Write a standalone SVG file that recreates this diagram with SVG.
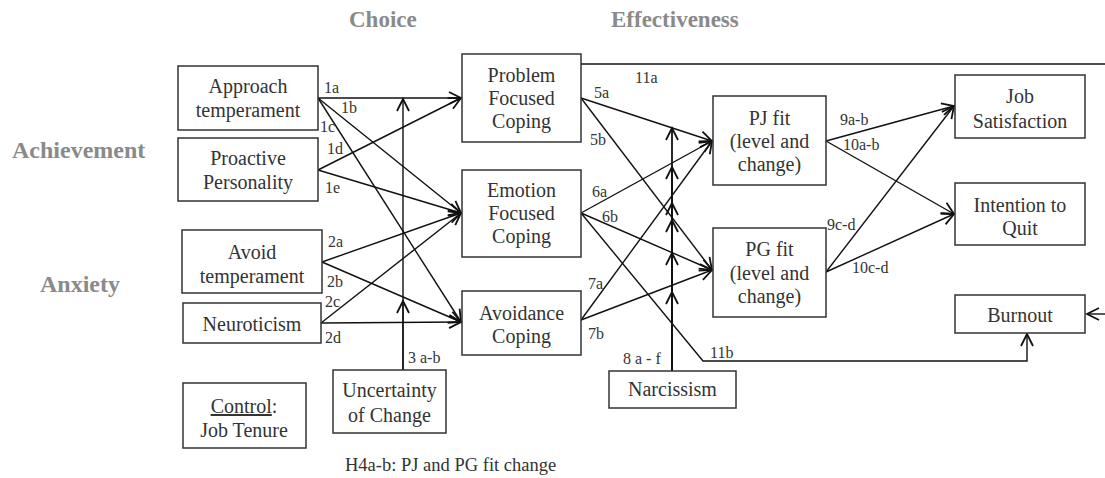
<svg xmlns="http://www.w3.org/2000/svg" width="1105" height="478" viewBox="0 0 1105 478">
<style>
.box{fill:#fff;stroke:#333;stroke-width:1.5}
.t{font-family:"Liberation Serif","Times New Roman",serif;font-size:20px;fill:#333;text-anchor:middle}
.l{font-family:"Liberation Serif","Times New Roman",serif;font-size:16px;fill:#333}
.h{font-family:"Liberation Serif","Times New Roman",serif;font-size:23px;font-weight:bold;fill:#8a8a8a}
.c{fill:none;stroke:#111;stroke-width:1.4}
.n{fill:none;stroke:#111;stroke-width:1.8}
</style>
<defs>
<marker id="a" viewBox="-14 -8 16 16" markerWidth="16" markerHeight="16" refX="0" refY="0" orient="auto" markerUnits="userSpaceOnUse">
<path d="M-12,-6 L0,0 L-12,6" fill="none" stroke="#111" stroke-width="1.8"/>
</marker>
</defs>
<rect width="1105" height="478" fill="#fff"/>
<g id="headers">
<text class="h" x="349" y="27">Choice</text>
<text class="h" x="611" y="27">Effectiveness</text>
<text class="h" x="12" y="158" style="font-size:24px">Achievement</text>
<text class="h" x="40" y="292" style="font-size:24px">Anxiety</text>
</g>
<g id="connectors">
<path class="c" marker-end="url(#a)" d="M318,98 L461,98"/>
<path class="c" marker-end="url(#a)" d="M318,98 L461,213"/>
<path class="c" marker-end="url(#a)" d="M318,98 L461,322"/>
<path class="c" marker-end="url(#a)" d="M318,170 L461,98"/>
<path class="c" marker-end="url(#a)" d="M318,170 L461,213"/>
<path class="c" marker-end="url(#a)" d="M322,262 L461,213"/>
<path class="c" marker-end="url(#a)" d="M322,262 L461,322"/>
<path class="c" marker-end="url(#a)" d="M321,323 L461,213"/>
<path class="c" marker-end="url(#a)" d="M321,323 L461,322"/>
<path class="c" marker-end="url(#a)" d="M403,370 L403,99"/>
<path class="c" marker-end="url(#a)" d="M403,370 L403,301"/>
<path class="c" marker-end="url(#a)" d="M581,98 L712,141"/>
<path class="c" marker-end="url(#a)" d="M581,98 L712,270"/>
<path class="c" marker-end="url(#a)" d="M581,213 L712,141"/>
<path class="c" marker-end="url(#a)" d="M581,213 L712,270"/>
<path class="c" marker-end="url(#a)" d="M581,320 L712,141"/>
<path class="c" marker-end="url(#a)" d="M581,320 L712,270"/>
<path class="c" d="M581,64 L1105,64"/>
<path class="c" marker-end="url(#a)" d="M581,213 L703,361 L1027,361 L1027,334"/>
<path class="c" marker-end="url(#a)" d="M1105,314 L1087,314"/>
<path class="c" marker-end="url(#a)" d="M826,141 L954,106"/>
<path class="c" marker-end="url(#a)" d="M826,141 L954,214"/>
<path class="c" marker-end="url(#a)" d="M826,272 L954,106"/>
<path class="c" marker-end="url(#a)" d="M826,272 L954,214"/>
<path class="n" marker-end="url(#a)" d="M672,371 L672,128"/>
<path class="n" marker-end="url(#a)" d="M672,371 L672,167"/>
<path class="n" marker-end="url(#a)" d="M672,371 L672,203"/>
<path class="n" marker-end="url(#a)" d="M672,371 L672,220"/>
<path class="n" marker-end="url(#a)" d="M672,371 L672,253"/>
<path class="n" marker-end="url(#a)" d="M672,371 L672,292"/>
</g>
<g id="edge-labels">
<text class="l" x="324" y="93">1a</text>
<text class="l" x="341" y="113">1b</text>
<text class="l" x="320" y="132">1c</text>
<text class="l" x="327" y="154">1d</text>
<text class="l" x="325" y="193">1e</text>
<text class="l" x="328" y="247">2a</text>
<text class="l" x="327" y="287">2b</text>
<text class="l" x="325" y="307">2c</text>
<text class="l" x="325" y="343">2d</text>
<text class="l" x="408" y="363">3 a-b</text>
<text class="l" x="635" y="83">11a</text>
<text class="l" x="594" y="98">5a</text>
<text class="l" x="590" y="145">5b</text>
<text class="l" x="592" y="197">6a</text>
<text class="l" x="602" y="222">6b</text>
<text class="l" x="588" y="289">7a</text>
<text class="l" x="588" y="339">7b</text>
<text class="l" x="623" y="364">8 a - f</text>
<text class="l" x="710" y="358">11b</text>
<text class="l" x="840" y="125">9a-b</text>
<text class="l" x="843" y="150">10a-b</text>
<text class="l" x="827" y="230">9c-d</text>
<text class="l" x="852" y="273">10c-d</text>
</g>
<g id="approach"><rect class="box" x="178" y="66" width="140" height="64"/><text class="t" x="248" y="93">Approach</text><text class="t" x="248" y="117">temperament</text></g>
<g id="proactive"><rect class="box" x="178" y="138" width="140" height="63"/><text class="t" x="248" y="165">Proactive</text><text class="t" x="248" y="189">Personality</text></g>
<g id="avoid"><rect class="box" x="182" y="230" width="140" height="63"/><text class="t" x="252" y="259">Avoid</text><text class="t" x="252" y="283">temperament</text></g>
<g id="neuroticism"><rect class="box" x="183" y="303" width="138" height="40"/><text class="t" x="252" y="331">Neuroticism</text></g>
<g id="control"><rect class="box" x="183" y="383" width="123" height="65"/><text class="t" x="244" y="413"><tspan text-decoration="underline">Control</tspan>:</text><text class="t" x="244" y="437">Job Tenure</text></g>
<g id="uncertainty"><rect class="box" x="333" y="370" width="113" height="63"/><text class="t" x="389.5" y="397">Uncertainty</text><text class="t" x="389.5" y="422">of Change</text></g>
<g id="problem"><rect class="box" x="462" y="54" width="119" height="88"/><text class="t" x="521.5" y="82">Problem</text><text class="t" x="521.5" y="105">Focused</text><text class="t" x="521.5" y="128">Coping</text></g>
<g id="emotion"><rect class="box" x="462" y="170" width="119" height="87"/><text class="t" x="521.5" y="197">Emotion</text><text class="t" x="521.5" y="220">Focused</text><text class="t" x="521.5" y="243">Coping</text></g>
<g id="avoidance"><rect class="box" x="462" y="291" width="119" height="64"/><text class="t" x="521.5" y="320">Avoidance</text><text class="t" x="521.5" y="343">Coping</text></g>
<g id="pjfit"><rect class="box" x="713" y="96" width="113" height="89"/><text class="t" x="769.5" y="125">PJ fit</text><text class="t" x="769.5" y="148">(level and</text><text class="t" x="769.5" y="171">change)</text></g>
<g id="pgfit"><rect class="box" x="713" y="228" width="113" height="89"/><text class="t" x="769.5" y="256">PG fit</text><text class="t" x="769.5" y="280">(level and</text><text class="t" x="769.5" y="303">change)</text></g>
<g id="jobsat"><rect class="box" x="955" y="75" width="130" height="63"/><text class="t" x="1020" y="103">Job</text><text class="t" x="1020" y="128">Satisfaction</text></g>
<g id="quit"><rect class="box" x="955" y="183" width="130" height="62"/><text class="t" x="1020" y="212">Intention to</text><text class="t" x="1020" y="235">Quit</text></g>
<g id="burnout"><rect class="box" x="955" y="295" width="130" height="38"/><text class="t" x="1020" y="322">Burnout</text></g>
<g id="narcissism"><rect class="box" x="609" y="371" width="127" height="37"/><text class="t" x="672.5" y="396">Narcissism</text></g>
<g id="footer"><text class="l" x="345" y="471" style="font-size:18.5px">H4a-b: PJ and PG fit change</text></g>
</svg>
